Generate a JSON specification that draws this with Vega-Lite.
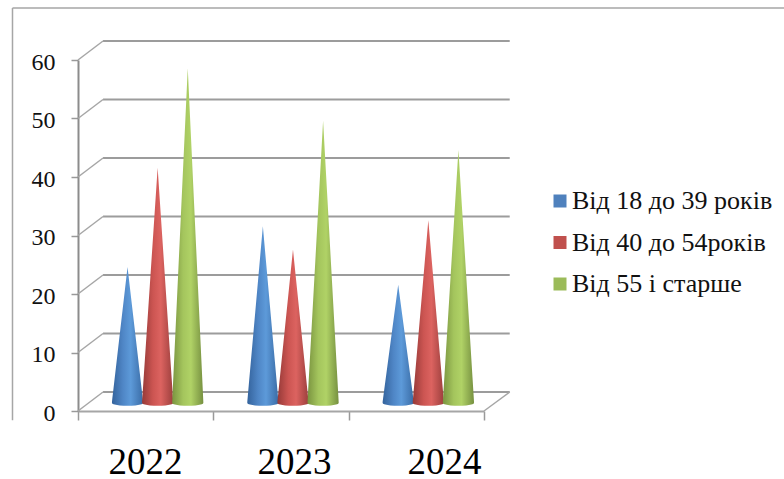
{
  "$schema": "https://vega.github.io/schema/vega-lite/v6.json",
  "width": 406,
  "height": 351,
  "padding": {"left": 78, "top": 60, "right": 300, "bottom": 68},
  "autosize": "none",
  "background": "white",
  "config": {"view": {"stroke": null}},
  "datasets": {
    "cones": [
      {"year": 2022, "group": "Від 18 до 39 років", "value": 23},
      {"year": 2022, "group": "Від 40 до 54років", "value": 40},
      {"year": 2022, "group": "Від 55 і старше", "value": 57},
      {"year": 2023, "group": "Від 18 до 39 років", "value": 30},
      {"year": 2023, "group": "Від 40 до 54років", "value": 26},
      {"year": 2023, "group": "Від 55 і старше", "value": 48},
      {"year": 2024, "group": "Від 18 до 39 років", "value": 20},
      {"year": 2024, "group": "Від 40 до 54років", "value": 31},
      {"year": 2024, "group": "Від 55 і старше", "value": 43}
    ],
    "levels": [{"level": 0}, {"level": 10}, {"level": 20}, {"level": 30}, {"level": 40}, {"level": 50}, {"level": 60}]
  },
  "resolve": {"axis": {"x": "independent", "y": "independent"}},
  "transform": [
    {"calculate": "indexof(['Від 18 до 39 років','Від 40 до 54років','Від 55 і старше'], datum.group)", "as": "slot"},
    {"calculate": "[-1,-0.97,-0.9,-0.75,-0.5,-0.25,0,0.25,0.5,0.75,0.9,0.97,1]", "as": "s"},
    {"flatten": ["s"]},
    {"calculate": "datum.year - 2022 + 0.366 + 0.2225 * datum.slot + 0.115 * datum.s", "as": "px"},
    {"calculate": "1.6 + datum.value * (1 - abs(datum.s))", "as": "top"},
    {"calculate": "1.35 - 0.45 * sqrt(1 - datum.s * datum.s)", "as": "bottom"}
  ],
  "data": {"name": "cones"},
  "layer": [
    {
      "description": "Outer chart frame, top and left edges",
      "data": {"values": [{"x": -0.484, "x2": 5.3, "y": 68.9, "y2": 68.9}, {"x": -0.484, "x2": -0.484, "y": 68.9, "y2": -1.6}]},
      "mark": {"type": "rule", "color": "#a6a6a6", "strokeWidth": 1.5, "clip": false},
      "encoding": {
        "x": {"field": "x", "type": "quantitative", "scale": {"domain": [0, 3], "nice": false, "zero": false}, "axis": null},
        "x2": {"field": "x2"},
        "y": {"field": "y", "type": "quantitative", "axis": null},
        "y2": {"field": "y2"}
      }
    },
    {
      "description": "Back wall gridlines",
      "data": {"name": "levels"},
      "transform": [{"calculate": "datum.level + 3.25", "as": "back"}],
      "mark": {"type": "rule", "color": "#9c9c9c", "strokeWidth": 2},
      "encoding": {
        "x": {"datum": 0.185, "type": "quantitative", "scale": {"domain": [0, 3], "nice": false, "zero": false}, "axis": null},
        "x2": {"datum": 3.19},
        "y": {"field": "back", "type": "quantitative", "axis": null}
      }
    },
    {
      "description": "Slanted side wall lines plus the value axis",
      "data": {"name": "levels"},
      "transform": [{"calculate": "datum.level + 3.25", "as": "back"}],
      "mark": {"type": "rule", "color": "#a6a6a6", "strokeWidth": 1.5},
      "encoding": {
        "x": {"datum": 0, "type": "quantitative", "scale": {"domain": [0, 3], "nice": false, "zero": false}, "axis": {"title": null, "orient": "bottom", "values": [0, 1, 2, 3], "labels": false, "tickSize": 9, "tickColor": "#999999", "tickWidth": 1.5, "domainColor": "#a6a6a6", "domainWidth": 2, "grid": false}},
        "x2": {"datum": 0.185},
        "y": {"field": "level", "type": "quantitative", "scale": {"domain": [0, 60], "nice": false}, "axis": {"title": null, "orient": "left", "values": [0, 10, 20, 30, 40, 50, 60], "grid": false, "tickSize": 7, "tickColor": "#999999", "tickWidth": 1.5, "domainColor": "#8c8c8c", "domainWidth": 2, "labelFont": "Liberation Serif", "labelFontSize": 24, "labelColor": "#111111", "labelPadding": 16, "labelOffset": 2}},
        "y2": {"field": "back"}
      }
    },
    {
      "description": "Right edge of the floor plus the year labels",
      "data": {"values": [{"level": 0}]},
      "transform": [{"calculate": "datum.level + 3.25", "as": "back"}],
      "mark": {"type": "rule", "color": "#a6a6a6", "strokeWidth": 1.5},
      "encoding": {
        "x": {"datum": 3, "type": "quantitative", "scale": {"domain": [0, 3], "nice": false, "zero": false}, "axis": {"title": null, "orient": "bottom", "values": [0.495, 1.596, 2.705], "labelExpr": "datum.value < 1 ? '2022' : datum.value < 2 ? '2023' : '2024'", "tickSize": 0, "domain": false, "grid": false, "labelFont": "Liberation Serif", "labelFontSize": 37, "labelColor": "#000000", "labelPadding": 33, "labelFlush": false, "labelOverlap": false}},
        "x2": {"datum": 3.19},
        "y": {"field": "level", "type": "quantitative", "axis": null},
        "y2": {"field": "back"}
      }
    },
    {
      "description": "Youngest group cones",
      "transform": [{"filter": "datum.slot === 0"}],
      "mark": {"type": "area", "clip": false, "interpolate": "linear", "fill": {"gradient": "linear", "x1": 0, "x2": 1, "y1": 0, "y2": 0, "stops": [{"offset": 0, "color": "#34639c"}, {"offset": 0.35, "color": "#4f86c6"}, {"offset": 0.6, "color": "#5d9ad9"}, {"offset": 1, "color": "#3a6ca6"}]}},
      "encoding": {
        "x": {"field": "px", "type": "quantitative", "scale": {"domain": [0, 3], "nice": false, "zero": false}, "axis": null},
        "y": {"field": "top", "type": "quantitative", "axis": null},
        "y2": {"field": "bottom"},
        "detail": {"field": "year"}
      }
    },
    {
      "description": "Middle group cones",
      "transform": [{"filter": "datum.slot === 1"}],
      "mark": {"type": "area", "clip": false, "interpolate": "linear", "fill": {"gradient": "linear", "x1": 0, "x2": 1, "y1": 0, "y2": 0, "stops": [{"offset": 0, "color": "#963a38"}, {"offset": 0.35, "color": "#cc5552"}, {"offset": 0.6, "color": "#dc6360"}, {"offset": 1, "color": "#9c3f3d"}]}},
      "encoding": {
        "x": {"field": "px", "type": "quantitative", "scale": {"domain": [0, 3], "nice": false, "zero": false}, "axis": null},
        "y": {"field": "top", "type": "quantitative", "axis": null},
        "y2": {"field": "bottom"},
        "detail": {"field": "year"}
      }
    },
    {
      "description": "Oldest group cones",
      "transform": [{"filter": "datum.slot === 2"}],
      "mark": {"type": "area", "clip": false, "interpolate": "linear", "fill": {"gradient": "linear", "x1": 0, "x2": 1, "y1": 0, "y2": 0, "stops": [{"offset": 0, "color": "#7a9440"}, {"offset": 0.35, "color": "#a4c55d"}, {"offset": 0.6, "color": "#b0d266"}, {"offset": 1, "color": "#769040"}]}},
      "encoding": {
        "x": {"field": "px", "type": "quantitative", "scale": {"domain": [0, 3], "nice": false, "zero": false}, "axis": null},
        "y": {"field": "top", "type": "quantitative", "axis": null},
        "y2": {"field": "bottom"},
        "detail": {"field": "year"}
      }
    },
    {
      "description": "Legend carrier with flat series colours",
      "mark": {"type": "point", "opacity": 0, "filled": true},
      "encoding": {
        "x": {"datum": 0, "type": "quantitative", "scale": {"domain": [0, 3], "nice": false, "zero": false}, "axis": null},
        "y": {"field": "value", "type": "quantitative", "axis": null},
        "color": {
          "field": "group", "type": "nominal",
          "scale": {"domain": ["Від 18 до 39 років", "Від 40 до 54років", "Від 55 і старше"], "range": ["#4f81bd", "#c0504d", "#9bbb59"]},
          "legend": {"title": null, "orient": "none", "legendX": 469, "legendY": 128, "symbolType": "square", "symbolSize": 169, "symbolOpacity": 1, "symbolStrokeWidth": 0, "labelFont": "Liberation Serif", "labelFontSize": 26, "labelColor": "#111111", "labelOffset": -1, "rowPadding": 15.5, "labelLimit": 300}
        }
      }
    }
  ]
}
